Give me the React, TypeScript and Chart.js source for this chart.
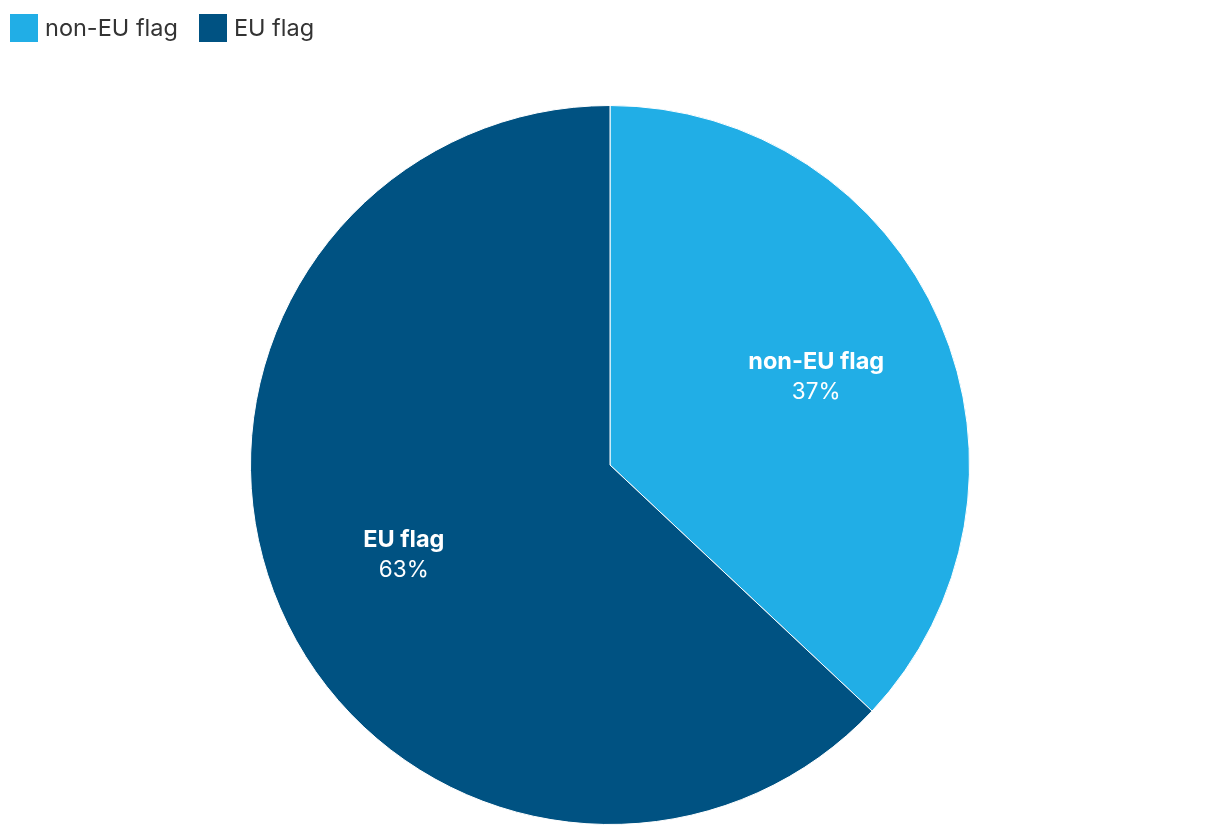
import React, { useEffect, useRef } from "react";
import { Chart, registerables } from "chart.js";

Chart.register(...registerables);

const categories = ["non-EU flag", "EU flag"];
const shares = [37, 63];
const colors = ["#21aee6", "#005282"];

const labelPlugin = {
  id: "sliceLabels",
  afterDatasetsDraw(chart: any) {
    const ctx = chart.ctx;
    const meta = chart.getDatasetMeta(0);
    meta.data.forEach((arc: any, i: number) => {
      const { x, y, startAngle, endAngle, outerRadius } = arc.getProps(
        ["x", "y", "startAngle", "endAngle", "outerRadius"],
        true
      );
      const mid = (startAngle + endAngle) / 2;
      const r = outerRadius * 0.625;
      const cx = x + Math.cos(mid) * r;
      const cy = y + Math.sin(mid) * r;
      ctx.save();
      ctx.fillStyle = "#ffffff";
      ctx.textAlign = "center";
      ctx.textBaseline = "middle";
      ctx.font = "bold 23.5px Inter";
      ctx.fillText(categories[i], cx, cy - 14);
      ctx.font = "22.5px Inter";
      ctx.fillText(shares[i] + "%", cx, cy + 16);
      ctx.restore();
    });
  },
};

export default function App() {
  const ref = useRef<HTMLCanvasElement | null>(null);
  useEffect(() => {
    if (!ref.current) return;
    const chart = new Chart(ref.current, {
      type: "pie",
      data: {
        labels: categories,
        datasets: [
          {
            data: shares,
            backgroundColor: colors,
            borderColor: "#ffffff",
            borderWidth: 1,
          },
        ],
      },
      options: {
        responsive: false,
        animation: false,
        layout: { padding: { top: 105, bottom: 11, left: 0, right: 0 } },
        plugins: {
          legend: { display: false },
          tooltip: { enabled: false },
        },
      },
      plugins: [labelPlugin],
    });
    return () => chart.destroy();
  }, []);

  return (
    <div style={{ position: "fixed", left: 0, top: 0, width: 1220, height: 836, background: "#fff" }}>
      <canvas ref={ref} width={1220} height={836} style={{ display: "block" }} />
      <div
        style={{
          position: "absolute",
          left: 10,
          top: 14,
          display: "flex",
          alignItems: "center",
          fontFamily: "Inter",
          fontSize: 23.5,
          color: "#333333",
        }}
      >
        {categories.map((c, i) => (
          <div key={c} style={{ display: "flex", alignItems: "center", marginRight: 21 }}>
            <span style={{ width: 28, height: 28, background: colors[i], display: "inline-block", marginRight: 7 }} />
            <span style={{ lineHeight: "28px" }}>{c}</span>
          </div>
        ))}
      </div>
    </div>
  );
}
